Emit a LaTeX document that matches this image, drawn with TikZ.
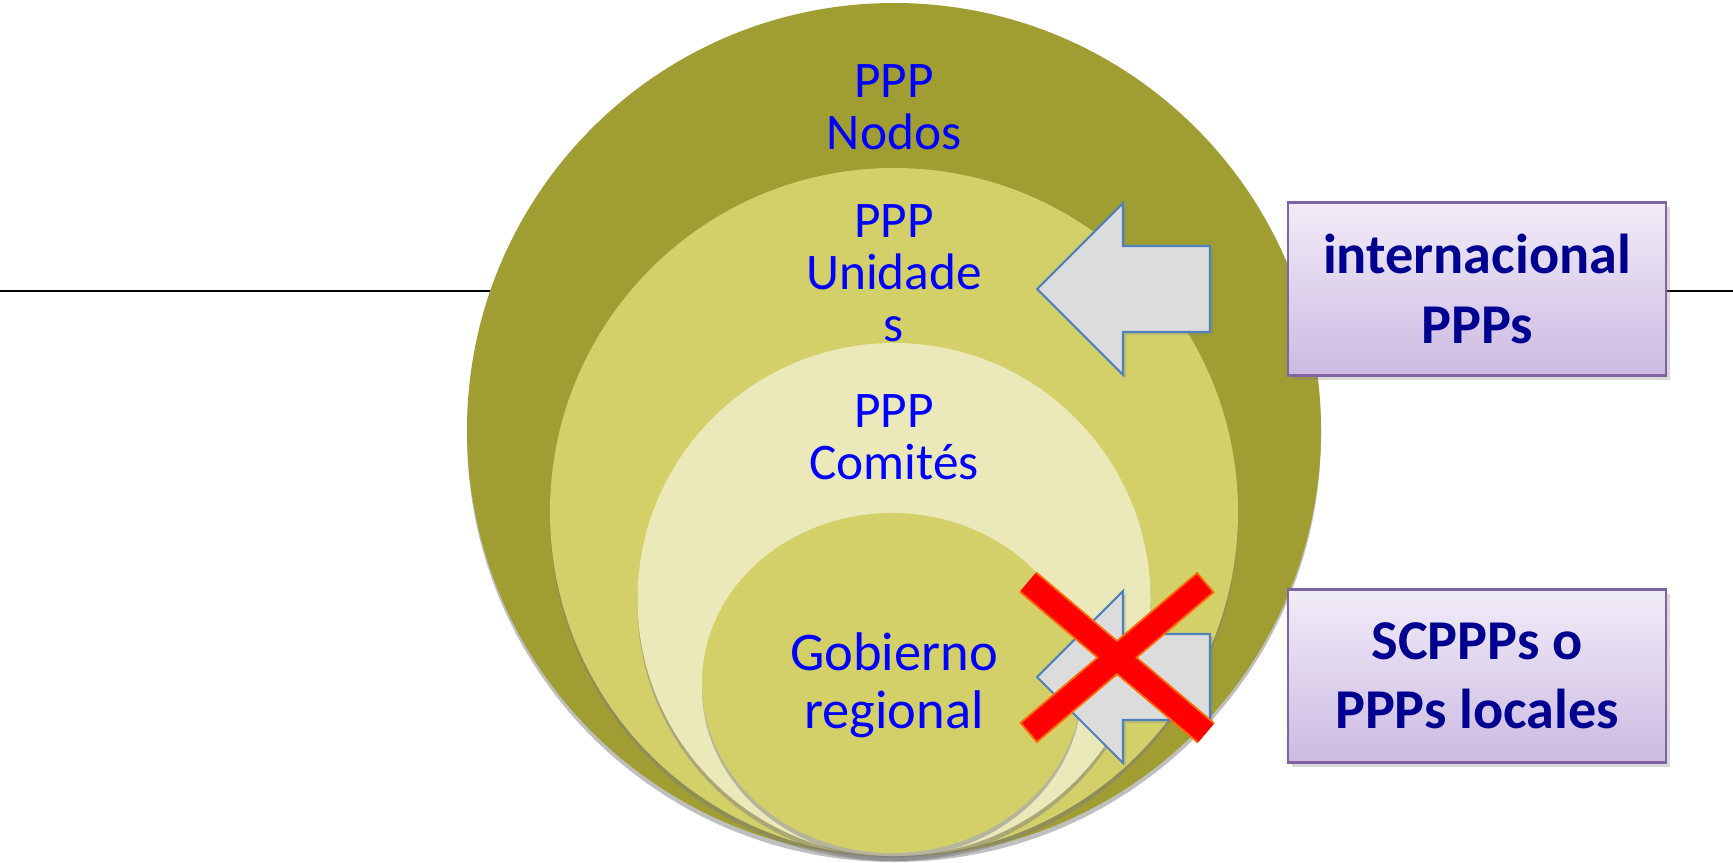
\documentclass[tikz,border=0pt]{standalone}
\usepackage{fontspec}
\setmainfont{Carlito}
\usetikzlibrary{shadows}
\definecolor{nodos}{HTML}{A09E33}
\definecolor{unidades}{HTML}{D3D06A}
\definecolor{comites}{HTML}{EBE9B9}
\definecolor{pppblue}{HTML}{0000FF}
\definecolor{boxtext}{HTML}{000090}
\definecolor{boxtop}{HTML}{F1ECF8}
\definecolor{boxbottom}{HTML}{CCBAE2}
\definecolor{boxline}{HTML}{8064A2}
\definecolor{arrowline}{HTML}{4F81BD}
\definecolor{arrowfill}{HTML}{DCDCDC}
\definecolor{crossline}{HTML}{FF6A00}
\newcommand{\inarrow}[1] % y of the tip in cm
{
	% grey block arrow pointing left
	\draw[arrowline, fill=arrowfill, line width=0.6pt, drop shadow={shadow xshift=0.03cm, shadow yshift=-0.03cm, opacity=0.25}] (10.37,#1) -- (11.23,#1+0.86) -- (11.23,#1+0.43) -- (12.10,#1+0.43) -- (12.10,#1-0.43) -- (11.23,#1-0.43) -- (11.23,#1-0.86) -- cycle;
}

\begin{document}
\begin{tikzpicture}[
	ringtext/.style={text=pppblue, align=center, font=\fontsize{14.6}{14.8}\selectfont},
	sidebox/.style={draw=boxline, line width=0.6pt, top color=boxtop, bottom color=boxbottom, minimum width=3.78cm, minimum height=1.73cm, align=center, text=boxtext, font=\fontsize{16}{19.7}\selectfont\bfseries, drop shadow={shadow xshift=0.04cm, shadow yshift=-0.04cm, opacity=0.3}},
	ringshadow/.style={drop shadow={shadow xshift=0cm, shadow yshift=-0.05cm, opacity=0.5}}
]
	% page: 17.33cm x 8.62cm
	\useasboundingbox (0,0) rectangle (17.33,8.62);
	\draw[line width=0.6pt] (0,5.71) -- (17.33,5.71);
	
	% stacked rings, all touching at the bottom
	\fill[nodos, ringshadow] (8.94,4.32) circle (4.27);
	\fill[unidades, ringshadow] (8.94,3.50) circle (3.44);
	\fill[comites, ringshadow] (8.94,2.625) circle (2.565);
	\fill[unidades, ringshadow] (8.92,1.79) ellipse (1.90 and 1.70);
	
	\node[ringtext] (nodostext) at (8.94,7.55) {PPP\\Nodos};
	\node[ringtext] (unidadestext) at (8.94,5.89) {PPP\\Unidade\\s};
	\node[ringtext] (comitestext) at (8.94,4.25) {PPP\\Comités};
	\node[ringtext, font=\fontsize{15.5}{16.5}\selectfont] (gobiernotext) at (8.94,1.765) {Gobierno\\regional};
	
	\inarrow{5.73};
	\inarrow{1.85};
	
	% red cross over the lower arrow
	\draw[crossline, line width=0.27cm] (10.28,2.80) -- (12.06,1.29) (12.06,2.80) -- (10.28,1.29);
	\draw[red, line width=0.23cm, shorten <=0.02cm, shorten >=0.02cm] (10.28,2.80) -- (12.06,1.29) (12.06,2.80) -- (10.28,1.29);
	
	\node[sidebox] (internacional) at (14.77,5.73) {internacional\\PPPs};
	\node[sidebox] (locales) at (14.77,1.86) {SCPPPs o\\PPPs locales};
\end{tikzpicture}
\end{document}
